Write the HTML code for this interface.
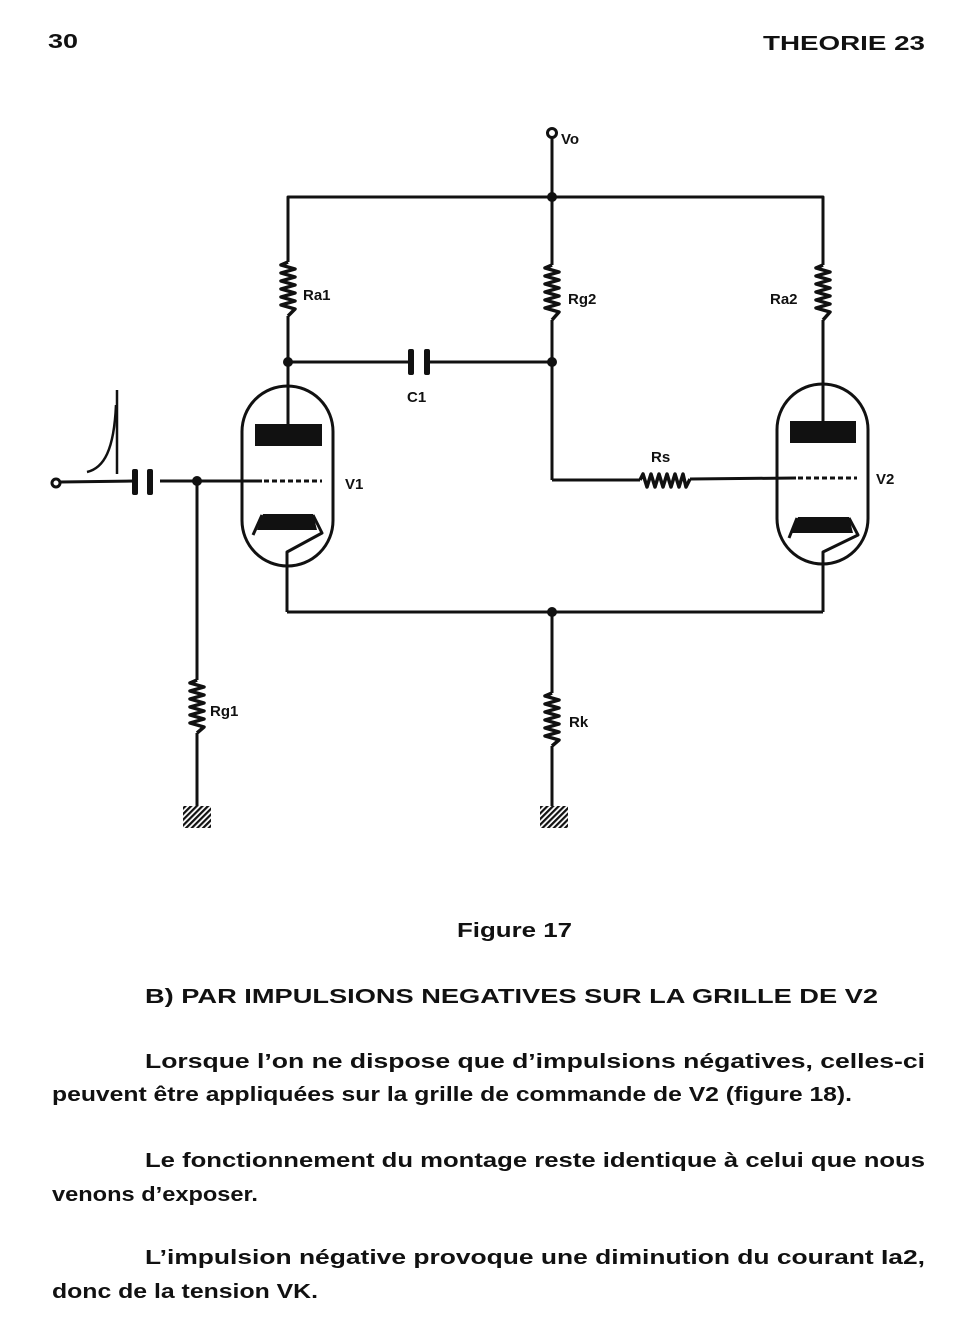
<!DOCTYPE html>
<html><head><meta charset="utf-8"><style>
html,body{margin:0;padding:0;background:#fff;}
svg{display:block;}
text{font-family:"Liberation Sans Narrow","Liberation Sans",sans-serif;font-weight:bold;fill:#111;}
</style></head><body>
<svg width="970" height="1334" viewBox="0 0 970 1334" xmlns="http://www.w3.org/2000/svg">
<defs>
<pattern id="h" width="4" height="4" patternUnits="userSpaceOnUse" patternTransform="rotate(45)">
<rect width="4" height="4" fill="#fff"/><rect width="2.2" height="4" fill="#111"/></pattern>
</defs>
<g stroke="#111" stroke-width="3" fill="none" stroke-linejoin="round">
<circle cx="552" cy="133" r="4.5"/>
<line x1="552" y1="138" x2="552" y2="265"/>
<polyline points="288,262 288,197 823,197 823,265"/>
<polyline stroke-width="3.5" points="288,262 281,265 295,269 281,273 295,277 281,281 295,285 281,289 295,293 281,297 295,301 281,305 295,309 288,316"/>
<line x1="288" y1="316" x2="288" y2="445"/>
<polyline stroke-width="3.5" points="552,265 545,268 559,272 545,276 559,280 545,284 559,288 545,292 559,296 545,300 559,304 545,308 559,312 552,320"/>
<polyline stroke-width="3.5" points="823,265 816,268 830,272 816,276 830,280 816,284 830,288 816,292 830,296 816,300 830,304 816,308 830,312 823,320"/>
<line x1="823" y1="320" x2="823" y2="440"/>
<line x1="288" y1="362" x2="412" y2="362"/>
<line x1="427" y1="362" x2="552" y2="362"/>
<line x1="552" y1="320" x2="552" y2="480"/>
<line x1="552" y1="480" x2="640" y2="480"/>
<line x1="690" y1="479" x2="796" y2="478"/>
<polyline stroke-width="3.5" points="640,480 643,474 647,487 651,474 655,487 659,474 663,487 667,474 671,487 675,474 679,487 683,474 686,487 690,479"/>
<rect x="242" y="386" width="91" height="180" rx="45.5"/>
<rect x="777" y="384" width="91" height="180" rx="45.5"/>
<line x1="160" y1="481" x2="262" y2="481"/>
<line x1="264" y1="481" x2="322" y2="481" stroke-dasharray="5,3"/>
<line x1="798" y1="478" x2="857" y2="478" stroke-dasharray="5,3"/>
<polyline points="253,535 262,515"/>
<polyline points="313,515 322,533 287,552 287,612"/>
<polyline points="789,538 797,518"/>
<polyline points="849,518 858,535 823,552 823,612"/>
<polyline points="287,612 823,612"/>
<line x1="552" y1="612" x2="552" y2="693"/>
<polyline stroke-width="3.5" points="552,693 545,696 559,700 545,704 559,708 545,712 559,716 545,720 559,724 545,728 559,732 545,736 559,740 552,746"/>
<line x1="552" y1="746" x2="552" y2="808"/>
<circle cx="56" cy="483" r="4"/>
<line x1="60" y1="482" x2="134" y2="481"/>
<line x1="197" y1="481" x2="197" y2="680"/>
<polyline stroke-width="3.5" points="197,680 190,683 204,687 190,691 204,695 190,699 204,703 190,707 204,711 190,715 204,719 190,723 204,727 197,733"/>
<line x1="197" y1="733" x2="197" y2="808"/>
<path d="M87,472 C104,468 114,450 116,405" stroke-width="2.5"/>
<line x1="117" y1="390" x2="117" y2="474" stroke-width="2.5"/>
</g>
<g fill="#111">
<circle cx="552" cy="197" r="5"/>
<circle cx="288" cy="362" r="5"/>
<circle cx="552" cy="362" r="5"/>
<circle cx="197" cy="481" r="5"/>
<circle cx="552" cy="612" r="5"/>
<rect x="255" y="424" width="67" height="22"/>
<rect x="790" y="421" width="66" height="22"/>
<polygon points="263,514 313,514 317,530 257,530"/>
<polygon points="798,517 849,517 853,533 792,533"/>
<rect x="132" y="469" width="6" height="26" rx="2"/>
<rect x="147" y="469" width="6" height="26" rx="2"/>
<rect x="408" y="349" width="6" height="26" rx="2"/>
<rect x="424" y="349" width="6" height="26" rx="2"/>
</g>
<rect x="183" y="806" width="28" height="22" fill="url(#h)"/>
<rect x="540" y="806" width="28" height="22" fill="url(#h)"/>
<g style="font-size:15px">
<text x="561" y="144">Vo</text>
<text x="303" y="300">Ra1</text>
<text x="568" y="304">Rg2</text>
<text x="770" y="304">Ra2</text>
<text x="407" y="402">C1</text>
<text x="345" y="489">V1</text>
<text x="651" y="462">Rs</text>
<text x="876" y="484">V2</text>
<text x="210" y="716">Rg1</text>
<text x="569" y="727">Rk</text>
</g>
<g style="font-size:20px">
<text x="48" y="48" textLength="30" lengthAdjust="spacingAndGlyphs">30</text>
<text x="763" y="50" textLength="162" lengthAdjust="spacingAndGlyphs">THEORIE 23</text>
<text x="457" y="937" textLength="115" lengthAdjust="spacingAndGlyphs">Figure 17</text>
<text x="145" y="1003" textLength="733" lengthAdjust="spacingAndGlyphs">B) PAR IMPULSIONS NEGATIVES SUR LA GRILLE DE V2</text>
<text x="145" y="1068" textLength="780" lengthAdjust="spacingAndGlyphs">Lorsque l’on  ne  dispose  que  d’impulsions  négatives,  celles-ci</text>
<text x="52" y="1101" textLength="800" lengthAdjust="spacingAndGlyphs">peuvent être appliquées sur la grille de commande de V2 (figure 18).</text>
<text x="145" y="1167" textLength="780" lengthAdjust="spacingAndGlyphs">Le  fonctionnement  du  montage  reste  identique  à  celui  que  nous</text>
<text x="52" y="1201" textLength="206" lengthAdjust="spacingAndGlyphs">venons d’exposer.</text>
<text x="145" y="1264" textLength="780" lengthAdjust="spacingAndGlyphs">L’impulsion  négative  provoque  une  diminution  du  courant  Ia2,</text>
<text x="52" y="1298" textLength="266" lengthAdjust="spacingAndGlyphs">donc de la tension VK.</text>
</g>
</svg>
</body></html>
